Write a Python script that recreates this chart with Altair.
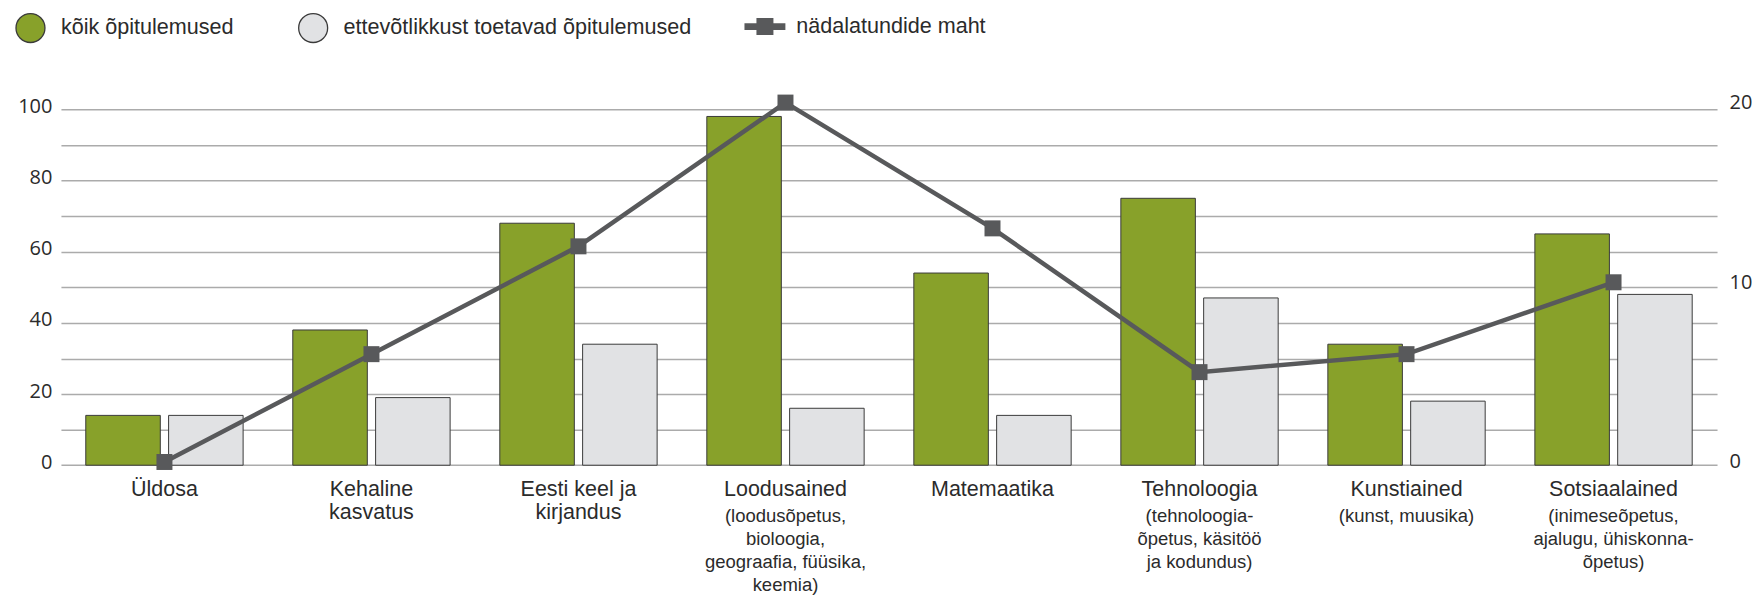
import json
import altair as alt
import pandas as pd

categories = ["Üldosa", "Kehaline kasvatus", "Eesti keel ja kirjandus", "Loodusained",
              "Matemaatika", "Tehnoloogia", "Kunstiained", "Sotsiaalained"]
main_labels = ["Üldosa", "Kehaline|kasvatus", "Eesti keel ja|kirjandus", "Loodusained",
               "Matemaatika", "Tehnoloogia", "Kunstiained", "Sotsiaalained"]
sub_labels = ["", "", "", "(loodusõpetus,|bioloogia,|geograafia, füüsika,|keemia)", "",
              "(tehnoloogia-|õpetus, käsitöö|ja kodundus)", "(kunst, muusika)",
              "(inimeseõpetus,|ajalugu, ühiskonna-|õpetus)"]
all_outcomes = [14, 38, 68, 98, 54, 75, 34, 65]
entrepreneurial = [14, 19, 34, 16, 14, 47, 18, 48]
weekly_hours = [0, 6, 12, 20, 13, 5, 6, 10]
series_names = ["kõik õpitulemused", "ettevõtlikkust toetavad õpitulemused"]
series_colors = ["#88a12a", "#e1e2e4"]
line_name = "nädalatundide maht"

bars_df = pd.DataFrame(
    [{"cat": c, "series": series_names[0], "value": v} for c, v in zip(categories, all_outcomes)]
    + [{"cat": c, "series": series_names[1], "value": v} for c, v in zip(categories, entrepreneurial)]
)
line_df = pd.DataFrame({"cat": categories, "hours": weekly_hours, "name": [line_name] * len(categories)})

cats_js = json.dumps(categories, ensure_ascii=False)
main_expr = f"split({json.dumps(main_labels, ensure_ascii=False)}[indexof({cats_js}, datum.value)], '|')"
sub_expr = f"split({json.dumps(sub_labels, ensure_ascii=False)}[indexof({cats_js}, datum.value)], '|')"

TXT = "#2b2b2b"
FONT = "Liberation Sans"
NUMFONT = "Open Sans"
LINEC = "#58595b"

x_scale = alt.Scale(paddingInner=0.24, paddingOuter=0.12)
right_scale = alt.Scale(domain=[-0.18, 20.02], nice=False, zero=False)

line_icon = "M-2.41,-0.41H2.41V0.41H-2.41Z M-1,-1H1V1H-1Z"

bars = alt.Chart(bars_df).mark_bar(stroke="#3a3a3a", strokeWidth=1).encode(
    x=alt.X("cat:N", sort=categories, scale=x_scale,
            axis=alt.Axis(title=None, orient="bottom", labelAngle=0, ticks=False, domain=False, grid=False,
                          labelExpr=main_expr, labelFont=FONT, labelFontSize=21.5, labelLineHeight=23,
                          labelColor=TXT, labelPadding=13, labelBaseline="top", labelLimit=400)),
    xOffset=alt.XOffset("series:N", sort=series_names, scale=alt.Scale(paddingInner=0.1)),
    y=alt.Y("value:Q", scale=alt.Scale(domain=[0, 102], nice=False),
            axis=alt.Axis(title=None, values=list(range(0, 101, 10)), ticks=False, domain=False,
                          labelExpr="datum.value % 20 == 0 ? datum.label : ''",
                          labelFont=NUMFONT, labelFontSize=20, labelColor=TXT, labelPadding=9,
                          labelOffset=-3, gridColor="#ababab", gridWidth=1.5)),
    color=alt.Color("series:N", sort=series_names,
                    scale=alt.Scale(domain=series_names, range=series_colors),
                    legend=alt.Legend(title=None, orient="none", legendX=-46, legendY=-90,
                                      direction="horizontal", symbolType="circle", symbolSize=841,
                                      symbolStrokeColor="#3a3a3a", symbolStrokeWidth=1.3,
                                      labelFont=FONT, labelFontSize=21.6, labelColor=TXT,
                                      labelOffset=15, columnPadding=62, padding=0, labelLimit=600)),
)

line = alt.Chart(line_df).mark_line(color=LINEC, strokeWidth=4.5).encode(
    x=alt.X("cat:N", sort=categories, scale=x_scale,
            axis=alt.Axis(title=None, orient="bottom", labelAngle=0, ticks=False, domain=False, grid=False,
                          labelExpr=sub_expr, labelFont=FONT, labelFontSize=18.5, labelLineHeight=23.3,
                          labelColor=TXT, labelPadding=41, labelBaseline="top", labelLimit=400)),
    y=alt.Y("hours:Q", scale=right_scale,
            axis=alt.Axis(title=None, orient="right", values=[0, 10, 20], ticks=False, domain=False, grid=False,
                          labelFont=NUMFONT, labelFontSize=20, labelColor=TXT, labelPadding=12)),
)

points = alt.Chart(line_df).mark_point(filled=True, size=256, opacity=1, color=LINEC, shape="square").encode(
    x=alt.X("cat:N", sort=categories, scale=x_scale, axis=None),
    y=alt.Y("hours:Q", scale=right_scale, axis=None),
)

# invisible layer that only provides the legend entry for the line series
legend_layer = alt.Chart(line_df).mark_point(filled=True, size=0, opacity=0, color=LINEC).encode(
    x=alt.X("cat:N", sort=categories, scale=x_scale, axis=None),
    y=alt.Y("hours:Q", scale=right_scale, axis=None),
    shape=alt.Shape("name:N", scale=alt.Scale(domain=[line_name], range=[line_icon]),
                    legend=alt.Legend(title=None, orient="none", legendX=694, legendY=-86.5,
                                      symbolSize=289, symbolFillColor=LINEC, symbolStrokeWidth=0,
                                      symbolOpacity=1,
                                      labelFont=FONT, labelFontSize=21.6, labelColor=TXT,
                                      labelOffset=20.5, padding=0, labelLimit=600)),
)

chart = alt.layer(bars, line, points, legend_layer).resolve_scale(y="independent").resolve_axis(x="independent").properties(
    width=1658, height=363.4,
    padding={"left": 53, "top": 94, "right": 35, "bottom": 134},
    autosize=alt.AutoSizeParams(type="none"),
).configure(background="white", view=alt.ViewConfig(stroke=None))

chart.save("out.html", embed_options={"renderer": "svg", "actions": False})
